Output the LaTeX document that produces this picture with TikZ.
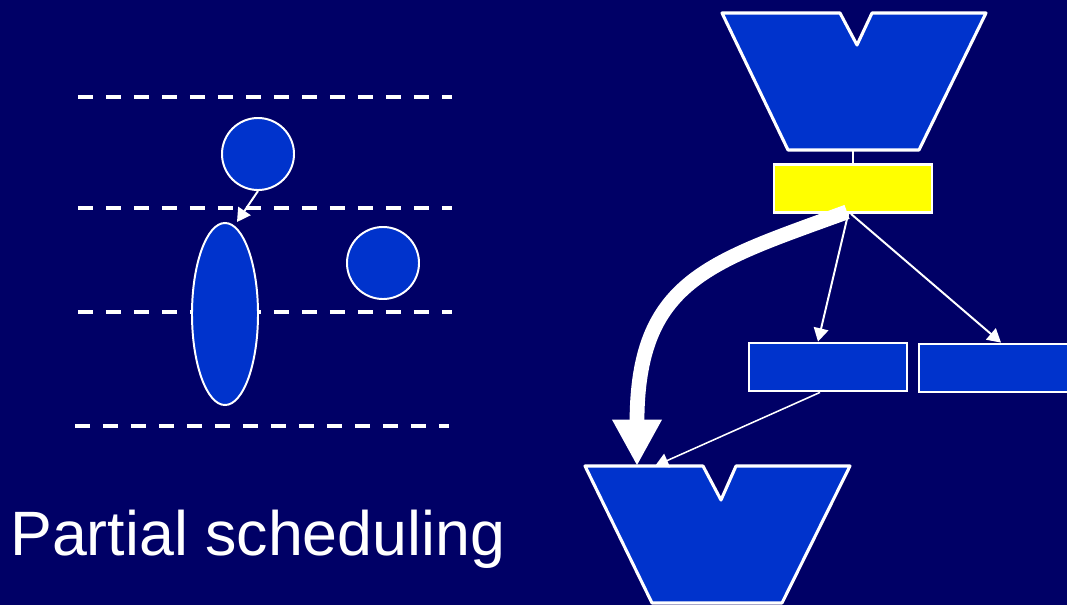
\documentclass[tikz,border=0pt]{standalone}
\usepackage{fontspec}
\setmainfont{Liberation Sans}
\usetikzlibrary{arrows.meta,shapes.geometric}
\definecolor{navybg}{HTML}{000066}
\definecolor{boxblue}{HTML}{0033CC}
\definecolor{selyellow}{HTML}{FFFF00}
\tikzset{
  blob/.style={circle,fill=boxblue,draw=white,line width=1.4pt,minimum size=1.8cm,inner sep=0pt},
  box/.style={rectangle,fill=boxblue,draw=white,line width=2pt,minimum width=3.95cm,minimum height=1.2cm,inner sep=0pt},
  vblock/.style={fill=boxblue,draw=white,line width=2.2pt,line join=round},
  dashline/.style={white,line width=2.6pt,dash pattern=on 10.7pt off 9.2pt},
  thin arrow/.style={white,line width=1.4pt,-{Triangle[length=9.5pt,width=10.5pt]}}
}
\begin{document}
\begin{tikzpicture}[x=0.025cm,y=-0.025cm]
  \useasboundingbox (0,0) rectangle (1067,605);
  \fill[navybg] (0,0) rectangle (1067,605);

  % Creneaux
  \foreach \y in {97,208,312} \draw[dashline] (78,\y) -- (452,\y);
  \draw[dashline] (75,426) -- (449,426);

  % Operations
  \node[blob] (opA) at (258,154) {};
  \node[blob] (opB) at (383,263) {};
  \node[ellipse,fill=boxblue,draw=white,line width=1.4pt,minimum width=1.65cm,minimum height=4.55cm,inner sep=0pt] (opC) at (225,314) {};
  \draw[thin arrow] (opA.south) -- ([xshift=0.3cm]opC.north);

  \node[anchor=base west,inner sep=0pt,white,font=\fontsize{44.6}{52}\selectfont] (titre) at (10,555) {Partial scheduling};

  % Bloc du haut
  \filldraw[vblock] (722,13) -- (840,13) -- (857,45) -- (872,13) -- (986,13) -- (919,150) -- (788,150) -- cycle;
  \coordinate (hautpied) at (853,150);
  \node[box,fill=selyellow] (sel) at (853,188.5) {};
  \draw[white,line width=1.6pt] (hautpied) -- (sel.north);

  % Instructions
  \node[box] (instA) at (828,367) {};
  \node[box,minimum width=4.1cm] (instB) at (1001,368) {};

  % Bloc du bas
  \filldraw[vblock] (585,466) -- (703,466) -- (721,500) -- (736,466) -- (850,466) -- (782,603) -- (652,603) -- cycle;
  \coordinate (basgauche) at (637,466);
  \coordinate (basmilieu) at (655,466);

  % Arcs
  \draw[thin arrow] ([xshift=-0.12cm]sel.south) -- ([xshift=-0.25cm]instA.north);
  \draw[thin arrow] ([xshift=-0.05cm]sel.south) -- (instB.north);
  \draw[thin arrow,line width=1.1pt] ([xshift=-0.2cm]instA.south) -- (basmilieu);
  \draw[white,line width=10.5pt,-{Triangle[length=33pt,width=33pt]}]
    ([xshift=-0.15cm,yshift=0.05cm]sel.south) .. controls (710,262) and (637,280) .. (basgauche);
\end{tikzpicture}
\end{document}
